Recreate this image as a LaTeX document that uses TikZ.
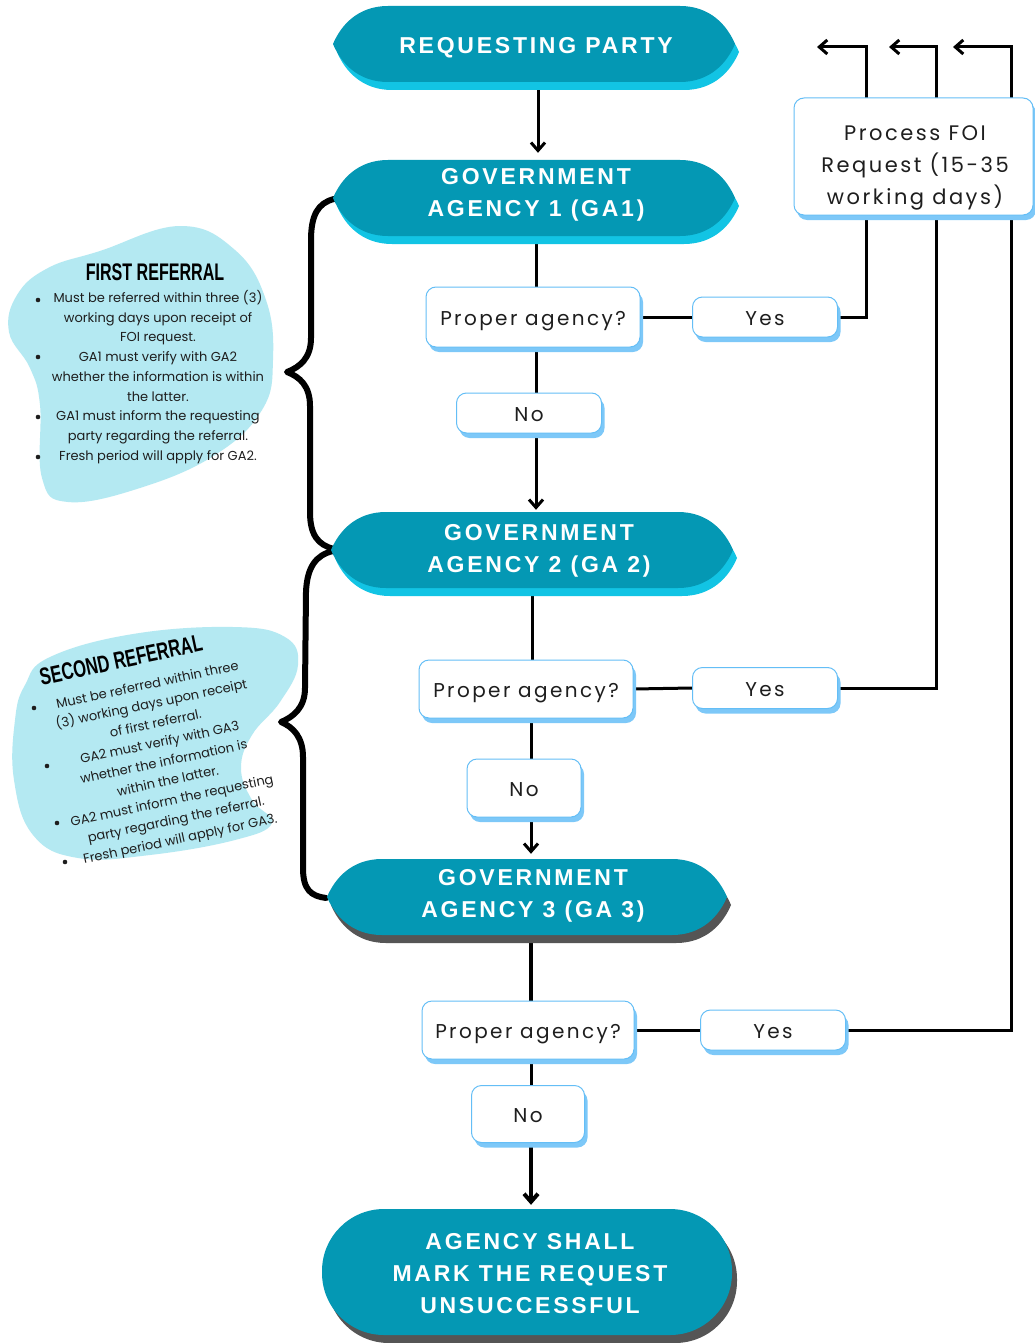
\documentclass[tikz,border=0pt]{standalone}
\usepackage{fontspec}
\usepackage{graphicx}
\usetikzlibrary{arrows.meta,shadows,calc}
\newfontfamily\headfont{Liberation Sans}[LetterSpace=12]
\newfontfamily\boxfont{Poppins}[LetterSpace=12]
\newfontfamily\blobfont{Poppins}
\newfontfamily\titlefont{Liberation Sans}
\definecolor{agteal}{RGB}{4,152,180}
\definecolor{agcyan}{RGB}{18,196,228}
\definecolor{agdark}{RGB}{85,85,85}
\definecolor{boxblue}{RGB}{100,190,246}
\definecolor{boxshade}{RGB}{125,200,248}
\definecolor{blobcol}{RGB}{180,233,242}
\definecolor{inkcol}{RGB}{30,30,30}
\pgfdeclarelayer{bg}
\pgfsetlayers{bg,main}
\newcommand\hexa[5]{%
 \begin{scope}[shift={(#1,#2)}]
 \fill[#5,shift={(4,8)}] (-#3+55,-#4) -- (#3-55,-#4) .. controls (#3-25,-#4) and (#3-8,-0.5*#4) .. (#3,0) .. controls (#3-8,0.5*#4) and (#3-25,#4) .. (#3-55,#4) -- (-#3+55,#4) .. controls (-#3+25,#4) and (-#3+8,0.5*#4) .. (-#3,0) .. controls (-#3+8,-0.5*#4) and (-#3+25,-#4) .. cycle;
 \fill[agteal] (-#3+55,-#4) -- (#3-55,-#4) .. controls (#3-25,-#4) and (#3-8,-0.5*#4) .. (#3,0) .. controls (#3-8,0.5*#4) and (#3-25,#4) .. (#3-55,#4) -- (-#3+55,#4) .. controls (-#3+25,#4) and (-#3+8,0.5*#4) .. (-#3,0) .. controls (-#3+8,-0.5*#4) and (-#3+25,-#4) .. cycle;
 \end{scope}}
\tikzset{
  conn/.style={line width=3pt, draw=black},
  arrowed/.style={-{Straight Barb[length=8pt,width=14pt]}},
  shapebox/.style={inner sep=0pt, draw=none},
  agtext/.style={text=white, font=\headfont\bfseries\fontsize{23}{32}\selectfont, align=center, inner sep=0pt},
  qbox/.style={draw=boxblue, line width=1pt, fill=white, rounded corners=10pt, inner sep=0pt,
    text=inkcol, font=\boxfont\fontsize{20}{30}\selectfont, text height=17pt, text depth=1pt,
    drop shadow={shadow xshift=3pt, shadow yshift=-5pt, fill=boxshade, opacity=1}},
  blobtext/.style={text=inkcol, font=\blobfont\fontsize{13}{19.7}\selectfont, align=center, inner sep=0pt},
  blobtitle/.style={text=black, font=\titlefont\bfseries\fontsize{24}{24}\selectfont, inner sep=0pt}
}
\begin{document}
\begin{tikzpicture}[x=1pt,y=-1pt]
\useasboundingbox (0,0) rectangle (1035,1343);

% ---- big teal shapes
\hexa{534}{44}{201}{38}{agcyan}
\hexa{534}{198}{201}{38}{agcyan}
\hexa{532}{550}{201}{38}{agcyan}
\hexa{527}{897}{200}{38}{agdark}
\fill[agdark, rounded corners=62pt] (327,1217) rectangle (737,1343);
\fill[agteal, rounded corners=62pt] (322,1209) rectangle (732,1335);

\node[shapebox, minimum width=402pt, minimum height=76pt] (rp) at (534,44) {};
\node[shapebox, minimum width=402pt, minimum height=76pt] (ga1) at (534,198) {};
\node[shapebox, minimum width=402pt, minimum height=76pt] (ga2) at (532,550) {};
\node[shapebox, minimum width=400pt, minimum height=76pt] (ga3) at (527,897) {};
\node[shapebox, minimum width=410pt, minimum height=126pt] (fin) at (527,1272) {};

\node[agtext] (rpt) at (536,48) {REQUESTING PARTY};
\node[agtext] (ga1t) at (536,195) {GOVERNMENT\\AGENCY 1 (GA1)};
\node[agtext] (ga2t) at (539,551) {GOVERNMENT\\AGENCY 2 (GA 2)};
\node[agtext] (ga3t) at (533,896) {GOVERNMENT\\AGENCY 3 (GA 3)};
\node[agtext] (fint) at (530,1274) {AGENCY SHALL\\MARK THE REQUEST\\UNSUCCESSFUL};

% ---- question / answer boxes
\node[qbox, minimum width=214pt, minimum height=60pt] (p1) at (533,317) {Proper agency?};
\node[qbox, minimum width=145pt, minimum height=40pt] (yes1) at (765,317) {Yes};
\node[qbox, minimum width=145pt, minimum height=40pt] (no1) at (529,413) {No};
\node[qbox, minimum width=214pt, minimum height=58pt] (p2) at (526,689) {Proper agency?};
\node[qbox, minimum width=145pt, minimum height=41pt] (yes2) at (765,688) {Yes};
\node[qbox, minimum width=114pt, minimum height=58pt] (no2) at (524,788) {No};
\node[qbox, minimum width=212pt, minimum height=58pt] (p3) at (528,1030) {Proper agency?};
\node[qbox, minimum width=145pt, minimum height=40pt] (yes3) at (773,1030) {Yes};
\node[qbox, minimum width=113pt, minimum height=57pt] (no3) at (528,1114) {No};

\node[qbox, minimum width=239pt, minimum height=117pt] (proc) at (913.5,156.5) {};
\node[text=inkcol, font=\boxfont\fontsize{21}{32}\selectfont, align=center, inner sep=0pt] (proct) at (915,168) {Process FOI\\Request (15-35\\working days)};

% ---- blob texts
\node[blobtitle] (r1title) at (155,272) {\scalebox{0.67}[1]{FIRST REFERRAL}};
\node[blobtext] (r1text) at (158,377) {Must be referred within three (3)\\working days upon receipt of\\FOI request.\\GA1 must verify with GA2\\whether the information is within\\the latter.\\GA1 must inform the requesting\\party regarding the referral.\\Fresh period will apply for GA2.};
\node[blobtitle, rotate=12] (r2title) at (121,660) {\scalebox{0.69}[1]{SECOND REFERRAL}};
\node[blobtext, rotate=12] (r2text) at (164,763) {Must be referred within three\\(3) working days upon receipt\\of first referral.\\GA2 must verify with GA3\\whether the information is\\within the latter.\\GA2 must inform the requesting\\party regarding the referral.\\Fresh period will apply for GA3.};

% ---- free ends of the return arrows
\coordinate (c1) at (866,47);
\coordinate (t1) at (817,47);
\coordinate (c2) at (936,47);
\coordinate (t2) at (889,47);
\coordinate (c3) at (1011,47);
\coordinate (t3) at (953,47);
\coordinate (colA) at (538,0);
\coordinate (colB) at (536,0);
\coordinate (colC) at (532,0);
\coordinate (colD) at (531,0);

\begin{pgfonlayer}{bg}
\fill[white] (0,0) rectangle (1035,1343);
% blobs
\fill[blobcol] plot[smooth cycle, tension=0.7] coordinates {(100,251) (180,226) (235,250) (266,300) (273,360) (262,410) (215,455) (140,488) (68,502) (42,478) (40,405) (30,368) (9,332) (17,295) (48,268)};
\fill[blobcol] plot[smooth cycle, tension=0.7] coordinates {(50,657) (133,634) (233,627) (285,637) (298,665) (280,702) (252,735) (241,768) (252,800) (272,823) (235,840) (150,855) (78,858) (33,835) (14,780) (15,720) (25,685)};
% bullets
\foreach \bx/\by in {38/300, 38/357, 38/417, 38/457, 34/708, 47/766, 57/823, 65/862}
  \fill[inkcol] (\bx,\by) circle (2.3);
% braces
\draw[line width=6pt, line cap=round, line join=round] (334,199) .. controls (318,203) and (311,215) .. (311,240) -- (311,338) .. controls (311,358) and (300,367) .. (287,372) .. controls (300,377) and (310,386) .. (310,406) -- (310,512) .. controls (310,535) and (318,545) .. (334,549);
\draw[line width=6pt, line cap=round, line join=round] (333,551) .. controls (316,555) and (307,567) .. (306,592) -- (305,688) .. controls (305,708) and (293,717) .. (281,722) .. controls (293,727) and (303,737) .. (303,757) -- (303,868) .. controls (303,890) and (311,896) .. (326,898);
% connectors
\draw[conn,arrowed,shorten >=7pt] (rp.south -| colA) -- (ga1.north -| colA);
\draw[conn] (ga1.south -| colB) -- (p1.north -| colB);
\draw[conn] (p1.south -| colB) -- (no1.north -| colB);
\draw[conn,arrowed,shorten >=2pt] (no1.south -| colB) -- (ga2.north -| colB);
\draw[conn] (ga2.south -| colC) -- (p2.north -| colC);
\draw[conn] (p2.south -| colD) -- (no2.north -| colD);
\draw[conn,arrowed,shorten >=5pt] (no2.south -| colD) -- (ga3.north -| colD);
\draw[conn,line width=4pt] (ga3.south -| colD) -- (p3.north -| colD);
\draw[conn] (p3.south -| colD) -- (no3.north -| colD);
\draw[conn,line width=4pt,arrowed,shorten >=4pt] (no3.south -| colD) -- (fin.north -| colD);
\draw[conn] (p1.east) -- (yes1.west);
\draw[conn] (p2.east) -- (yes2.west);
\draw[conn] (p3.east) -- (yes3.west);
\draw[conn,arrowed] (yes1.east) -| (c1) -- (t1);
\draw[conn,arrowed] (yes2.east) -| (c2) -- (t2);
\draw[conn,arrowed] (yes3.east) -| (c3) -- (t3);
\end{pgfonlayer}
\end{tikzpicture}
\end{document}
